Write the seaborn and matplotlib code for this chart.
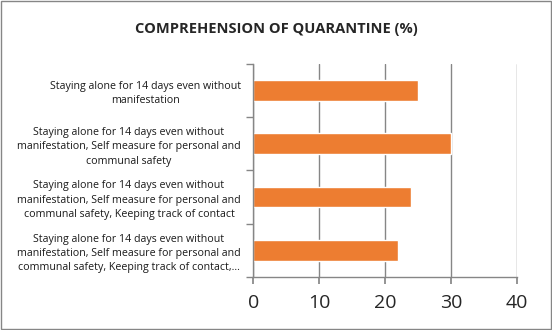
import matplotlib
matplotlib.use("Agg")
import matplotlib.pyplot as plt
import seaborn as sns
import pandas as pd
from matplotlib.patches import Rectangle
from matplotlib.ticker import FixedLocator

categories = [
    "Staying alone for 14 days even without\nmanifestation",
    "Staying alone for 14 days even without\nmanifestation, Self measure for personal and\ncommunal safety",
    "Staying alone for 14 days even without\nmanifestation, Self measure for personal and\ncommunal safety, Keeping track of contact",
    "Staying alone for 14 days even without\nmanifestation, Self measure for personal and\ncommunal safety, Keeping track of contact,...",
]
values = [25, 30, 24, 22]
x_ticks = [0, 10, 20, 30, 40]
title = "COMPREHENSION OF QUARANTINE (%)"

sns.set_theme(style="white")
plt.rcParams['font.family'] = ['Open Sans', 'DejaVu Sans']

df = pd.DataFrame({"cat": categories, "val": values})
fig = plt.figure(figsize=(5.52, 3.30), dpi=100)
ax = fig.add_axes([0.459, 0.161, 0.477, 0.645])
sns.barplot(data=df, x="val", y="cat", orient="h", color="#ED7D31",
            saturation=1, width=0.39, ax=ax)

ax.set_xlim(0, 40)
ax.set_ylim(3.5, -0.5)
ax.set_xticks(x_ticks)
ax.set_xticklabels([str(t) for t in x_ticks], fontsize=14)
ax.xaxis.grid(True, color="#868686", lw=1)
ax.set_axisbelow(True)
ax.set_xlabel("")
ax.set_ylabel("")
for s in ["top", "right"]:
    ax.spines[s].set_visible(False)
for s in ["left", "bottom"]:
    ax.spines[s].set_color("#868686")
    ax.spines[s].set_linewidth(1)
ax.tick_params(axis="x", length=5, color="#868686", direction="out", pad=7, bottom=True)
ax.tick_params(axis="y", which="major", length=0, pad=9)
ax.yaxis.set_minor_locator(FixedLocator([-0.5, 0.5, 1.5, 2.5, 3.5]))
ax.tick_params(axis="y", which="minor", length=5, color="#868686", direction="out", left=True)
for lab in ax.get_yticklabels():
    lab.set_fontsize(7.7)
    lab.set_multialignment("center")
    lab.set_linespacing(1.4)
    lab.set_color("#1a1a1a")

fig.text(0.5, 0.912, title, ha="center", va="center", fontsize=10.5, fontweight="bold")
fig.patches.append(Rectangle((0.001, 0.002), 0.997, 0.995, transform=fig.transFigure,
                             fill=False, edgecolor="#868686", lw=1))
fig.savefig("out.png", dpi=100)
